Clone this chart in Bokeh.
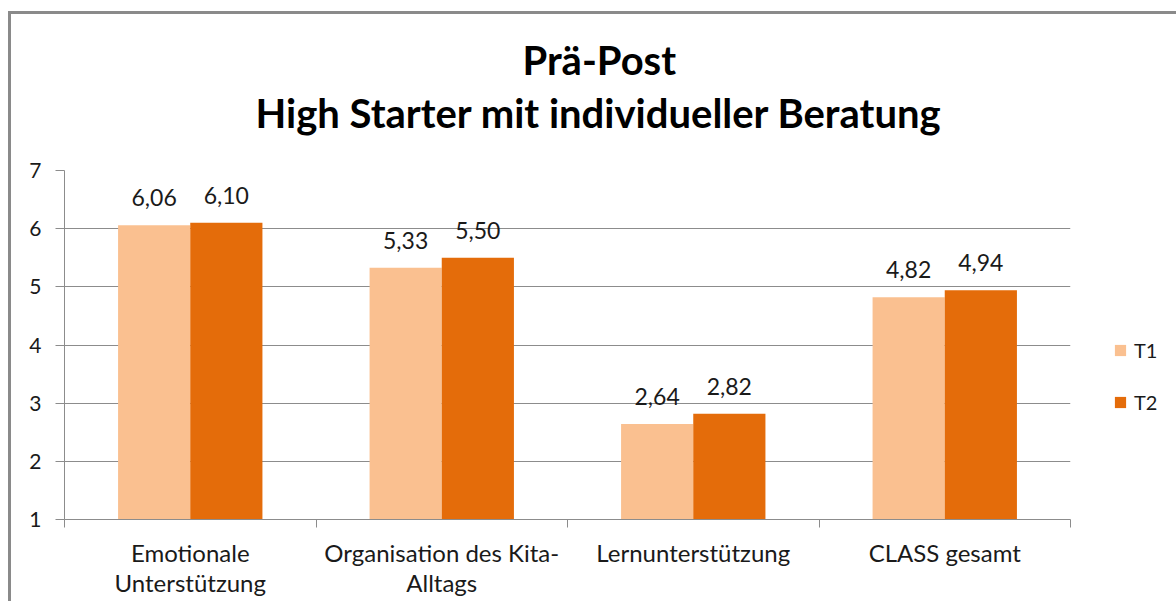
from bokeh.plotting import figure
from bokeh.models import (ColumnDataSource, Range1d, FixedTicker, LabelSet, Legend, LegendItem, Title)
from bokeh.core.properties import value
from bokeh.transform import dodge
from bokeh.embed import file_html
from bokeh.resources import INLINE
import numpy as np

categories = ["Emotionale\nUnterstützung", "Organisation des Kita-\nAlltags", "Lernunterstützung", "CLASS gesamt"]
t1_values = [6.06, 5.33, 2.64, 4.82]
t2_values = [6.10, 5.50, 2.82, 4.94]
series_names = ["T1", "T2"]
y_ticks = [1, 2, 3, 4, 5, 6, 7]
title_lines = ["Prä-Post", "High Starter mit individueller Beratung"]

FONT = "Lato"
C_T1 = "#FAC090"
C_T2 = "#E46C0A"
GRID = "#8c8c8c"
TXT = "#1a1a1a"

xc = (np.arange(len(categories)) + 0.5).tolist()
src = ColumnDataSource(dict(
    x=xc,
    t1=t1_values,
    t2=t2_values,
    t1_lab=[f"{v:.2f}".replace(".", ",") for v in t1_values],
    t2_lab=[f"{v:.2f}".replace(".", ",") for v in t2_values],
))

p = figure(frame_width=1006, frame_height=349, output_backend="svg", toolbar_location=None,
           x_range=Range1d(0, len(categories)), y_range=Range1d(1, 7),
           min_border_left=53, min_border_right=98, min_border_top=156, min_border_bottom=82)
p.styles = {"margin-top": "11px", "margin-left": "8px",
            "border-top": "3px solid #8a8a8a", "border-left": "3px solid #8a8a8a"}
p.outline_line_color = None
p.background_fill_color = "white"
p.border_fill_color = "white"

bw = 0.287
off = 0.1435
r1 = p.vbar(x=dodge("x", -off), top="t1", bottom=1, width=bw, source=src, fill_color=C_T1, line_color=None)
r2 = p.vbar(x=dodge("x", off), top="t2", bottom=1, width=bw, source=src, fill_color=C_T2, line_color=None)

for col, lab in (("t1", "t1_lab"), ("t2", "t2_lab")):
    dx = -off if col == "t1" else off
    ls = LabelSet(x=dodge("x", dx), y=col, text=lab, source=src, text_align="center",
                  text_baseline="alphabetic", y_offset=19, text_font=value(FONT),
                  text_font_size=value("23px"), text_color=TXT)
    p.add_layout(ls)

# x axis
p.xaxis.ticker = FixedTicker(ticks=xc, minor_ticks=list(range(len(categories) + 1)))
p.xaxis.major_label_overrides = {x: c for x, c in zip(xc, categories)}
p.xaxis.major_tick_out = 0
p.xaxis.major_tick_in = 0
p.xaxis.minor_tick_out = 8
p.xaxis.minor_tick_in = 0
p.xaxis.minor_tick_line_color = GRID
p.xaxis.axis_line_color = GRID
p.xaxis.major_label_text_font = FONT
p.xaxis.major_label_text_font_size = "24px"
p.xaxis.major_label_text_line_height = 1.05
p.xaxis.major_label_text_color = TXT
p.xaxis.major_label_standoff = 10
p.xaxis.major_label_text_align = "center"

# y axis
p.yaxis.ticker = FixedTicker(ticks=y_ticks, minor_ticks=[])
p.yaxis.major_tick_out = 9
p.yaxis.major_tick_in = 0
p.yaxis.major_tick_line_color = GRID
p.yaxis.axis_line_color = GRID
p.yaxis.major_label_text_font = FONT
p.yaxis.major_label_text_font_size = "21px"
p.yaxis.major_label_text_color = TXT
p.yaxis.major_label_standoff = 14

p.xgrid.grid_line_color = None
p.ygrid.ticker = FixedTicker(ticks=y_ticks)
p.ygrid.grid_line_color = GRID
p.ygrid.grid_line_width = 1

# titles (later added sits further out); a blank spacer keeps the gap to the frame
p.add_layout(Title(text=" ", text_font_size="10px", standoff=19), "above")
p.add_layout(Title(text=title_lines[1], align="left", offset=191, text_font=FONT,
                   text_font_size="40px", text_font_style="bold", text_color="#000000",
                   standoff=3), "above")
p.add_layout(Title(text=title_lines[0], align="left", offset=458, text_font=FONT,
                   text_font_size="40px", text_font_style="bold", text_color="#000000",
                   standoff=3), "above")

legend = Legend(items=[LegendItem(label=series_names[0], renderers=[r1]),
                       LegendItem(label=series_names[1], renderers=[r2])],
                location=(43, 105), orientation="vertical",
                glyph_width=14, glyph_height=14, label_height=20, spacing=28,
                label_standoff=7, padding=0, margin=0, border_line_color=None,
                background_fill_alpha=0, label_text_font=FONT, label_text_font_size="20px",
                label_text_color=TXT)
p.add_layout(legend, "right")

open("out.html", "w").write(file_html(p, INLINE))
